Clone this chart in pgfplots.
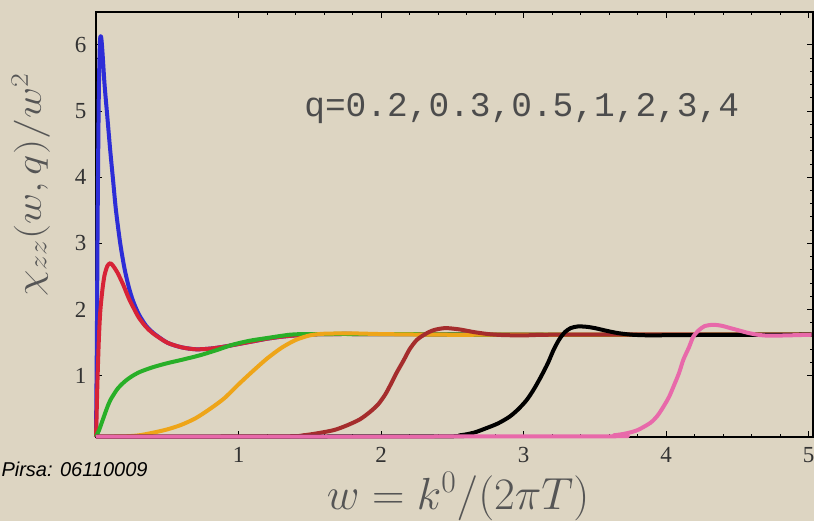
\RequirePackage{fix-cm}
\documentclass[border=0pt]{standalone}
\usepackage[no-math]{fontspec}
\setmainfont{Liberation Serif}
\newfontfamily\monofont{Liberation Mono}
\newfontfamily\sansfont{Liberation Sans}
\usepackage{graphicx}
\usepackage{pgfplots}
\pgfplotsset{compat=1.18}

\definecolor{bgc}{RGB}{221,213,194}
\definecolor{blueC}{RGB}{45,45,215}
\definecolor{redC}{RGB}{215,35,55}
\definecolor{greenC}{RGB}{40,175,40}
\definecolor{orangeC}{RGB}{238,165,25}
\definecolor{brownC}{RGB}{165,45,45}
\definecolor{pinkC}{RGB}{232,105,170}
\definecolor{labgray}{RGB}{85,85,85}

\begin{document}
\begin{tikzpicture}
% page background
\fill[bgc, use as bounding box] (-96bp,-84bp) rectangle (718bp,437bp);
\begin{axis}[
  scale only axis,
  width=717bp, height=425bp,
  xmin=0, xmax=5.03,
  ymin=0.075, ymax=6.495,
  clip=false,
  axis line style={black, line width=1.1bp},
  tick align=inside,
  tick style={black, line width=0.8bp},
  major tick length=6bp,
  minor tick length=3bp,
  xtick={1,2,3,4,5},
  ytick={1,2,3,4,5,6},
  minor x tick num=4,
  minor y tick num=4,
  xticklabel pos=left,
  yticklabel pos=left,
  /pgf/number format/assume math mode=true,
  ticklabel style={font=\fontsize{23bp}{23bp}\selectfont, text=black!80},
  xticklabel style={yshift=-7bp},
  yticklabel style={xshift=-6bp},
  every axis plot/.append style={line width=4bp, line join=round, smooth, tension=0.45},
]
% q = 0.2
\addplot[blueC] coordinates {
 (0.0,0.08) (0.006,1.5) (0.012,3.5) (0.02,5.3) (0.028,6.05) (0.036,6.12)
 (0.045,5.9) (0.06,5.4) (0.08,4.9) (0.1,4.4) (0.12,3.95) (0.14,3.5)
 (0.17,3.0) (0.2,2.62) (0.23,2.34) (0.26,2.13) (0.3,1.93) (0.35,1.76)
 (0.4,1.65) (0.5,1.5) (0.6,1.43) (0.7,1.40) (0.8,1.41) (0.9,1.44)
 (1.0,1.48) (1.1,1.52) (1.2,1.56) (1.3,1.59) (1.4,1.61) (1.5,1.62)
 (1.6,1.63) (2.0,1.63) (3.0,1.62) (4.0,1.62) (5.02,1.62)};
% q = 0.3
\addplot[redC] coordinates {
 (0.0,0.08) (0.003,0.3) (0.01,0.9) (0.02,1.55) (0.03,1.97) (0.045,2.3)
 (0.06,2.52) (0.08,2.66) (0.1,2.7) (0.12,2.66) (0.15,2.56) (0.19,2.38)
 (0.23,2.17) (0.26,2.04) (0.3,1.88) (0.35,1.74) (0.4,1.64) (0.5,1.5)
 (0.6,1.43) (0.7,1.40) (0.8,1.41) (0.9,1.44) (1.0,1.48) (1.1,1.52)
 (1.2,1.56) (1.3,1.59) (1.4,1.61) (1.5,1.62) (1.6,1.63) (2.0,1.63)
 (3.0,1.62) (4.0,1.62) (5.02,1.62)};
% q = 0.5
\addplot[greenC] coordinates {
 (0.0,0.08) (0.02,0.17) (0.05,0.35) (0.075,0.5) (0.1,0.63) (0.15,0.8)
 (0.2,0.91) (0.25,0.99) (0.31,1.06) (0.4,1.13) (0.5,1.19) (0.6,1.24)
 (0.73,1.31) (0.85,1.39) (0.96,1.47) (1.08,1.53) (1.2,1.57) (1.36,1.62)
 (1.5,1.63) (2.0,1.63) (3.0,1.62) (5.02,1.62)};
% q = 1
\addplot[orangeC] coordinates {
 (0.0,0.08) (0.2,0.085) (0.3,0.1) (0.4,0.14) (0.5,0.19) (0.6,0.26)
 (0.7,0.36) (0.8,0.5) (0.9,0.66) (1.0,0.87) (1.1,1.07) (1.2,1.26)
 (1.3,1.42) (1.4,1.54) (1.5,1.61) (1.6,1.635) (1.8,1.64) (2.0,1.63)
 (2.4,1.62) (3.0,1.62) (5.02,1.62)};
% q = 2
\addplot[brownC] coordinates {
 (0.0,0.08) (1.3,0.085) (1.45,0.1) (1.55,0.13) (1.67,0.18) (1.76,0.25)
 (1.85,0.34) (1.92,0.45) (1.98,0.57) (2.03,0.72) (2.07,0.88) (2.11,1.05)
 (2.16,1.24) (2.2,1.4) (2.25,1.54) (2.31,1.63) (2.37,1.69) (2.45,1.72)
 (2.55,1.7) (2.65,1.66) (2.75,1.63) (2.85,1.615) (3.0,1.61) (3.2,1.62)
 (4.0,1.62) (5.02,1.62)};
% q = 3
\addplot[black] coordinates {
 (0.0,0.08) (2.4,0.085) (2.55,0.1) (2.65,0.14) (2.74,0.21) (2.82,0.28)
 (2.9,0.38) (2.96,0.49) (3.02,0.63) (3.07,0.79) (3.12,0.98) (3.17,1.19)
 (3.21,1.39) (3.25,1.55) (3.29,1.66) (3.33,1.72) (3.38,1.745) (3.44,1.74)
 (3.5,1.72) (3.58,1.68) (3.66,1.645) (3.76,1.62) (3.9,1.61) (4.1,1.615)
 (5.02,1.62)};
% q = 4
\addplot[pinkC] coordinates {
 (0.0,0.08) (3.5,0.085) (3.63,0.1) (3.72,0.13) (3.8,0.18) (3.89,0.29)
 (3.94,0.4) (3.98,0.53) (4.02,0.68) (4.05,0.83) (4.09,1.04) (4.12,1.24)
 (4.16,1.43) (4.19,1.59) (4.23,1.69) (4.27,1.75) (4.33,1.77) (4.39,1.755)
 (4.45,1.72) (4.51,1.685) (4.57,1.65) (4.64,1.62) (4.72,1.605) (4.85,1.61)
 (5.02,1.62)};

\node[anchor=base west, inner sep=0pt, text=black!70, font=\monofont\fontsize{34.5bp}{34.5bp}\selectfont]
  at (axis cs:1.46,4.91) {q=0.2,0.3,0.5,1,2,3,4};

% axis labels
\node[anchor=base, inner sep=0pt, text=labgray, font=\fontsize{36bp}{36bp}\selectfont, rotate=90]
  at ([xshift=-55bp]rel axis cs:0,0.593) {\scalebox{1.19}[1]{$\chi_{zz}(w,q)/w^2$}};
\node[anchor=base, inner sep=0pt, text=labgray, font=\fontsize{45bp}{45bp}\selectfont]
  at ([yshift=-72bp]rel axis cs:0.505,0) {$w=k^0/(2\pi T)$};
\end{axis}
% watermark
\node[anchor=west, font=\sansfont\itshape\fontsize{20bp}{20bp}\selectfont]
  at (-98bp,-32bp) {Pirsa: 06110009};
\end{tikzpicture}
\end{document}
